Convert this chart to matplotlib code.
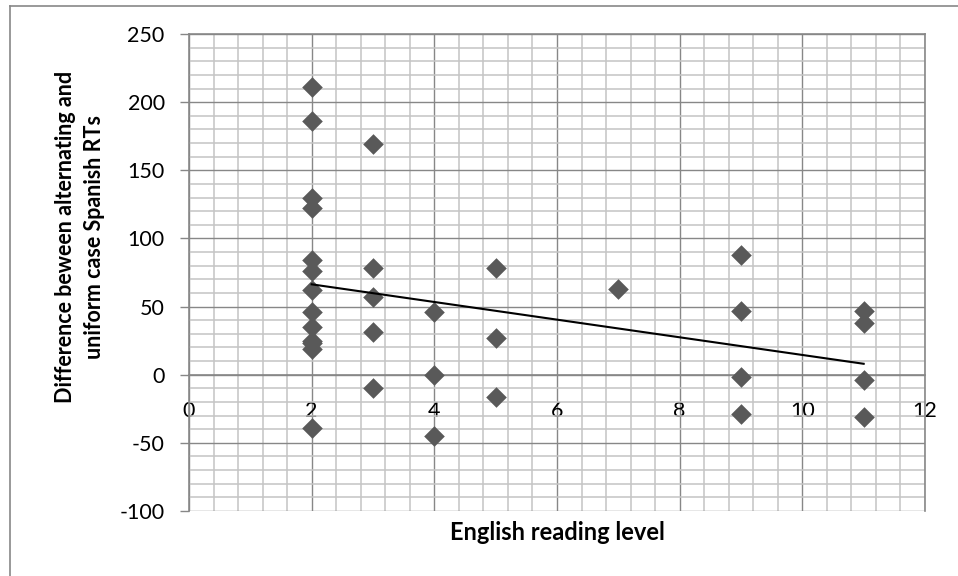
import numpy as np
import matplotlib.pyplot as plt
from matplotlib.lines import Line2D
from matplotlib.ticker import MultipleLocator

# reading level vs. RT difference (alternating - uniform case)
reading_level = [2, 2, 2, 2, 2, 2, 2, 2, 2, 2, 2, 2, 2,
                 3, 3, 3, 3, 3,
                 4, 4, 4,
                 5, 5, 5,
                 7,
                 9, 9, 9, 9,
                 11, 11, 11, 11]
rt_difference = [211, 186, 130, 122, 84, 76, 62, 46, 35, 25, 23, 19, -39,
                 169, 78, 57, 31, -10,
                 46, 0, -45,
                 78, 27, -16,
                 63,
                 88, 47, -2, -29,
                 47, 38, -4, -31]

x_ticks = [0, 2, 4, 6, 8, 10, 12]
y_ticks = [-100, -50, 0, 50, 100, 150, 200, 250]

W, H = 958, 576
plt.rcParams['font.family'] = ['Lato', 'DejaVu Sans']
plt.rcParams['axes.unicode_minus'] = False
fig = plt.figure(figsize=(W / 100, H / 100), dpi=100)

ax = fig.add_axes([189 / W, 1 - 511 / H, (925 - 189) / W, (511 - 34) / H])

major_col = '#878787'
minor_col = '#c4c4c4'

ax.set_xlim(0, 12)
ax.set_ylim(-100, 250)
ax.xaxis.set_minor_locator(MultipleLocator(0.4))
ax.yaxis.set_minor_locator(MultipleLocator(10))
ax.set_xticks(x_ticks)
ax.set_yticks(y_ticks)

ax.grid(which='minor', color=minor_col, linewidth=1.1, zorder=0)
ax.grid(which='major', color=major_col, linewidth=1.0, zorder=0)
ax.set_axisbelow(True)

for s in ax.spines.values():
    s.set_color(major_col)
    s.set_linewidth(1.2)
ax.spines['bottom'].set_position(('data', 0))

ax.tick_params(axis='y', which='major', direction='out', length=6.5, width=1,
               color=major_col, pad=11, labelsize=15.5)
ax.tick_params(axis='x', which='major', length=0, pad=19, labelsize=15.5)
ax.tick_params(which='minor', length=0)

ax.scatter(reading_level, rt_difference, marker='D', s=10.5 ** 2,
           color='#595959', linewidths=0, zorder=3)

# linear trendline
slope, intercept = np.polyfit(reading_level, rt_difference, 1)
tx = np.array([min(reading_level), max(reading_level)])
ax.plot(tx, slope * tx + intercept, color='black', linewidth=1.5, zorder=4)

fig.text(557 / W, 1 - 533 / H, 'English reading level', ha='center', va='center',
         fontsize=17, fontweight='bold')
fig.text(80 / W, 1 - 237 / H, 'Difference beween alternating and\nuniform case Spanish RTs',
         ha='center', va='center', rotation=90, fontsize=15.5, fontweight='bold',
         linespacing=1.5)

# outer chart border (only top and left visible)
fig.add_artist(Line2D([9.5 / W, 9.5 / W], [0, 1 - 5.5 / H], color=major_col, linewidth=1.2))
fig.add_artist(Line2D([9.5 / W, 1], [1 - 5.5 / H, 1 - 5.5 / H], color=major_col, linewidth=1.2))

fig.savefig('out.png', dpi=100)
